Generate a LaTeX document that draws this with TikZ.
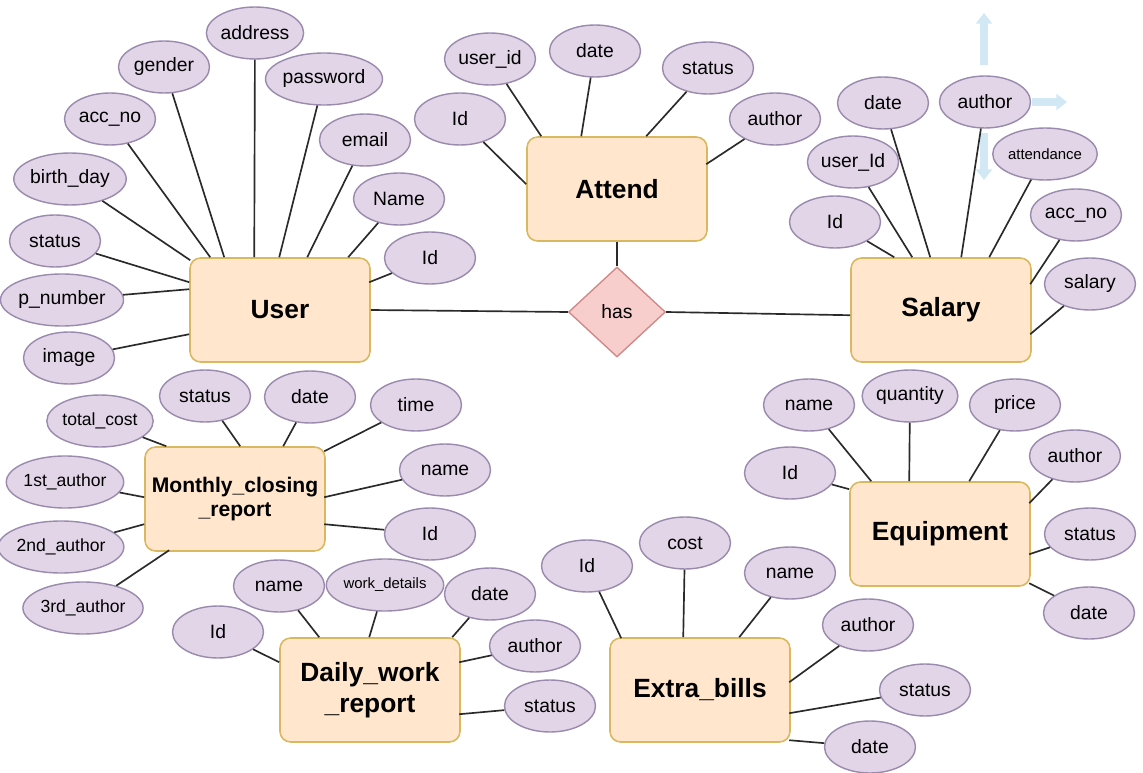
\documentclass[tikz,border=0pt]{standalone}
\usepackage{fontspec}
\setmainfont{Liberation Sans}
\usetikzlibrary{shapes.geometric,arrows.meta}
\definecolor{attrfill}{HTML}{E1D5E7}
\definecolor{attrline}{HTML}{9A8AAE}
\definecolor{entfill}{HTML}{FFE6CC}
\definecolor{entline}{HTML}{D9B860}
\definecolor{relfill}{HTML}{F8CECC}
\definecolor{relline}{HTML}{D08A8A}
\definecolor{linkc}{HTML}{2A2A2A}
\definecolor{hoverblue}{HTML}{D2E8F5}
\begin{document}
\begin{tikzpicture}[x=0.02cm,y=-0.02cm,
 attr/.style={ellipse,draw=attrline,fill=attrfill,line width=0.8pt,minimum width=1.82cm,minimum height=1.04cm,inner sep=0pt,font=\fontsize{11}{12}\selectfont},
 attrs/.style={attr,font=\fontsize{10}{11}\selectfont},
 attrxs/.style={attr,font=\fontsize{8.5}{10}\selectfont},
 entity/.style={rectangle,rounded corners=6pt,draw=entline,fill=entfill,line width=0.9pt,minimum width=3.6cm,minimum height=2.08cm,inner sep=0pt,align=center,font=\bfseries\fontsize{15}{18}\selectfont},
 rel/.style={diamond,draw=relline,fill=relfill,line width=0.8pt,minimum width=1.94cm,minimum height=1.8cm,inner sep=0pt,font=\fontsize{11}{12}\selectfont},
 link/.style={draw=linkc,line width=0.95pt},
 hover/.style={draw=hoverblue,line width=4pt,-{Triangle[width=9pt,length=6pt]}}
]
\useasboundingbox (0,0) rectangle (1143,773);

% hover arrows (top right)
\coordinate (hu1) at (984,65); \coordinate (hu2) at (984,13);
\coordinate (hr1) at (1032,102); \coordinate (hr2) at (1067,102);
\coordinate (hd1) at (984,133); \coordinate (hd2) at (984,180);
\draw[hover] (hu1) -- (hu2);
\draw[hover] (hr1) -- (hr2);
\draw[hover] (hd1) -- (hd2);

% entities
\node[entity] (user) at (280,310) {User};
\node[entity] (attend) at (617,189) {Attend};
\node[entity] (salary) at (941,310) {Salary};
\node[entity,font=\bfseries\fontsize{12}{14}\selectfont] (monthly) at (235,499) {Monthly\_closing\\\_report};
\node[entity] (daily) at (370,690) {Daily\_work\\\_report};
\node[entity] (extra) at (700,690) {Extra\_bills};
\node[entity] (equip) at (940,534) {Equipment};
\node[rel] (has) at (617,312) {has};

% User attributes
\node[attr] (u_address) at (255,33) {address};
\node[attr] (u_gender) at (164,67) {gender};
\node[attr] (u_password) at (324,79) {password};
\node[attr] (u_acc) at (110,119) {acc\_no};
\node[attr] (u_email) at (365,140) {email};
\node[attr] (u_birth) at (70,179) {birth\_day};
\node[attr] (u_name) at (399,199) {Name};
\node[attr] (u_status) at (55,241) {status};
\node[attr] (u_id) at (430,258) {Id};
\node[attr] (u_pnum) at (62,300) {p\_number};
\node[attr] (u_image) at (69,358) {image};

% Attend attributes
\node[attr] (a_user) at (490,59) {user\_id};
\node[attr] (a_date) at (595,51) {date};
\node[attr] (a_status) at (708,68) {status};
\node[attr] (a_author) at (775,119) {author};
\node[attr] (a_id) at (460,119) {Id};

% Salary attributes
\node[attr] (s_date) at (883,103) {date};
\node[attr] (s_author) at (985,102) {author};
\node[attr] (s_user) at (853,162) {user\_Id};
\node[attrxs] (s_att) at (1045,154) {attendance};
\node[attr] (s_id) at (835,222) {Id};
\node[attr] (s_acc) at (1076,215) {acc\_no};
\node[attr] (s_salary) at (1090,284) {salary};

% Monthly attributes
\node[attrs] (m_total) at (100,421) {total\_cost};
\node[attr] (m_status) at (205,396) {status};
\node[attr] (m_date) at (310,397) {date};
\node[attr] (m_time) at (416,405) {time};
\node[attr] (m_name) at (445,470) {name};
\node[attr] (m_id) at (430,534) {Id};
\node[attrs] (m_a1) at (65,482) {1st\_author};
\node[attrs] (m_a2) at (61,547) {2nd\_author};
\node[attrs] (m_a3) at (83,608) {3rd\_author};

% Daily attributes
\node[attr] (d_name) at (279,586) {name};
\node[attrxs] (d_work) at (385,585) {work\_details};
\node[attr] (d_date) at (490,594) {date};
\node[attr] (d_id) at (218,632) {Id};
\node[attr] (d_author) at (535,646) {author};
\node[attr] (d_status) at (550,706) {status};

% Extra bills attributes
\node[attr] (e_id) at (587,566) {Id};
\node[attr] (e_cost) at (685,543) {cost};
\node[attr] (e_name) at (790,573) {name};
\node[attr] (e_author) at (868,625) {author};
\node[attr] (e_status) at (925,690) {status};
\node[attr] (e_date) at (870,747) {date};

% Equipment attributes
\node[attr] (q_name) at (809,405) {name};
\node[attr] (q_qty) at (910,396) {quantity};
\node[attr] (q_price) at (1015,405) {price};
\node[attr] (q_id) at (790,473) {Id};
\node[attr] (q_author) at (1075,456) {author};
\node[attr] (q_status) at (1090,534) {status};
\node[attr] (q_date) at (1089,613) {date};

% relationship links
\draw[link] (user.east) -- (has.west);
\draw[link] (has.east) -- ([shift={(0,58)}]salary.north west);
\draw[link] (attend.south) -- (has.north);

% User links
\draw[link] (u_address) -- ([shift={(65,0)}]user.north west);
\draw[link] (u_gender) -- ([shift={(35,0)}]user.north west);
\draw[link] (u_password) -- ([shift={(90,0)}]user.north west);
\draw[link] (u_acc) -- ([shift={(21,0)}]user.north west);
\draw[link] (u_email) -- ([shift={(118,0)}]user.north west);
\draw[link] (u_birth) -- ([shift={(1,3)}]user.north west);
\draw[link] (u_name) -- ([shift={(159,0)}]user.north west);
\draw[link] (u_status) -- ([shift={(0,25)}]user.north west);
\draw[link] (u_id) -- ([shift={(180,25)}]user.north west);
\draw[link] (u_pnum) -- ([shift={(0,32)}]user.north west);
\draw[link] (u_image) -- ([shift={(0,77)}]user.north west);

% Attend links
\draw[link] (a_user) -- ([shift={(15,0)}]attend.north west);
\draw[link] (a_date) -- ([shift={(55,0)}]attend.north west);
\draw[link] (a_status) -- ([shift={(120,0)}]attend.north west);
\draw[link] (a_author) -- ([shift={(180,28)}]attend.north west);
\draw[link] (a_id) -- ([shift={(0,48)}]attend.north west);

% Salary links
\draw[link] (s_date) -- ([shift={(80,0)}]salary.north west);
\draw[link] (s_author) -- ([shift={(111,0)}]salary.north west);
\draw[link] (s_user) -- ([shift={(62,0)}]salary.north west);
\draw[link] (s_att) -- ([shift={(139,0)}]salary.north west);
\draw[link] (s_id) -- ([shift={(44,0)}]salary.north west);
\draw[link] (s_acc) -- ([shift={(180,27)}]salary.north west);
\draw[link] (s_salary) -- ([shift={(180,77)}]salary.north west);

% Monthly links
\draw[link] (m_total) -- ([shift={(22,0)}]monthly.north west);
\draw[link] (m_status) -- ([shift={(96,0)}]monthly.north west);
\draw[link] (m_date) -- ([shift={(139,0)}]monthly.north west);
\draw[link] (m_time) -- ([shift={(180,5)}]monthly.north west);
\draw[link] (m_name) -- ([shift={(180,51)}]monthly.north west);
\draw[link] (m_id) -- ([shift={(180,78)}]monthly.north west);
\draw[link] (m_a1) -- ([shift={(0,51)}]monthly.north west);
\draw[link] (m_a2) -- ([shift={(0,78)}]monthly.north west);
\draw[link] (m_a3) -- ([shift={(25,104)}]monthly.north west);

% Daily links
\draw[link] (d_name) -- ([shift={(40,0)}]daily.north west);
\draw[link] (d_work) -- ([shift={(90,0)}]daily.north west);
\draw[link] (d_date) -- ([shift={(173,0)}]daily.north west);
\draw[link] (d_id) -- ([shift={(0,25)}]daily.north west);
\draw[link] (d_author) -- ([shift={(180,25)}]daily.north west);
\draw[link] (d_status) -- ([shift={(180,77)}]daily.north west);

% Extra bills links
\draw[link] (e_id) -- ([shift={(12,1)}]extra.north west);
\draw[link] (e_cost) -- ([shift={(74,0)}]extra.north west);
\draw[link] (e_name) -- ([shift={(130,0)}]extra.north west);
\draw[link] (e_author) -- ([shift={(180,45)}]extra.north west);
\draw[link] (e_status) -- ([shift={(180,76)}]extra.north west);
\draw[link] (e_date) -- ([shift={(180,103)}]extra.north west);

% Equipment links
\draw[link] (q_name) -- ([shift={(22,0)}]equip.north west);
\draw[link] (q_qty) -- ([shift={(60,0)}]equip.north west);
\draw[link] (q_price) -- ([shift={(120,0)}]equip.north west);
\draw[link] (q_id) -- ([shift={(0,8)}]equip.north west);
\draw[link] (q_author) -- ([shift={(180,22)}]equip.north west);
\draw[link] (q_status) -- ([shift={(180,73)}]equip.north west);
\draw[link] (q_date) -- ([shift={(180,102)}]equip.north west);
\end{tikzpicture}
\end{document}
